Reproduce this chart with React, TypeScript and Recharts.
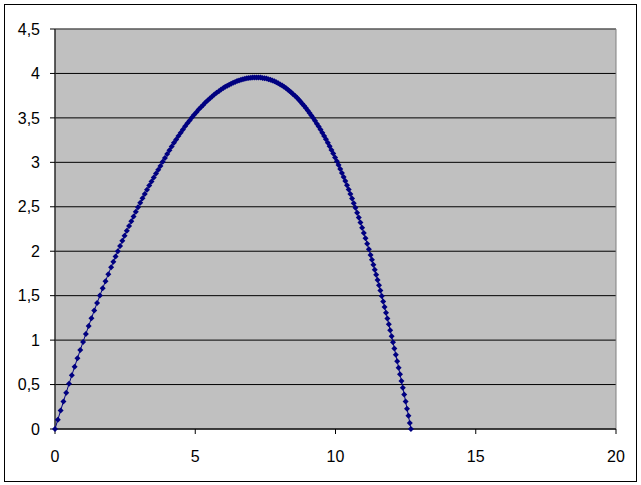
import {
  CartesianGrid,
  ReferenceArea,
  Scatter,
  ScatterChart,
  XAxis,
  YAxis,
} from "recharts";

// points (distance, height)
const xValues = [
  0, 0.1, 0.2, 0.3, 0.4, 0.5, 0.6, 0.7, 0.8, 0.9, 1.0, 1.1, 1.2, 1.3, 1.4, 1.5,
  1.6, 1.7, 1.8, 1.9, 2.0, 2.08, 2.16, 2.24, 2.32, 2.4, 2.48, 2.56, 2.64, 2.72,
  2.8, 2.88, 2.96, 3.04, 3.12, 3.2, 3.28, 3.36, 3.44, 3.52, 3.6, 3.68, 3.76,
  3.84, 3.92, 4.0, 4.08, 4.16, 4.24, 4.32, 4.4, 4.48, 4.56, 4.64, 4.72, 4.8,
  4.88, 4.96, 5.04, 5.12, 5.2, 5.28, 5.36, 5.44, 5.52, 5.6, 5.68, 5.76, 5.84,
  5.92, 6.0, 6.07, 6.14, 6.21, 6.28, 6.35, 6.42, 6.49, 6.56, 6.63, 6.7, 6.77,
  6.84, 6.91, 6.98, 7.05, 7.12, 7.19, 7.26, 7.33, 7.4, 7.47, 7.54, 7.61, 7.68,
  7.75, 7.82, 7.89, 7.96, 8.03, 8.1, 8.165, 8.23, 8.295, 8.36, 8.425, 8.49,
  8.555, 8.62, 8.685, 8.75, 8.815, 8.88, 8.945, 9.01, 9.075, 9.14, 9.205, 9.27,
  9.335, 9.4, 9.465, 9.53, 9.595, 9.66, 9.725, 9.79, 9.855, 9.92, 9.985, 10.05,
  10.11, 10.17, 10.23, 10.29, 10.35, 10.41, 10.47, 10.53, 10.59, 10.65, 10.71,
  10.77, 10.83, 10.89, 10.95, 11.01, 11.07, 11.13, 11.19, 11.25, 11.3, 11.35,
  11.4, 11.45, 11.5, 11.55, 11.6, 11.65, 11.7, 11.75, 11.8, 11.85, 11.9, 11.95,
  12.0, 12.05, 12.1, 12.15, 12.2, 12.25, 12.3, 12.35, 12.4, 12.45, 12.5, 12.55,
  12.6, 12.65, 12.69,
];

const yValues = [
  0, 0.104, 0.207, 0.309, 0.409, 0.508, 0.605, 0.701, 0.795, 0.888, 0.98, 1.07,
  1.159, 1.247, 1.333, 1.418, 1.501, 1.583, 1.663, 1.742, 1.82, 1.881, 1.941,
  2.001, 2.059, 2.117, 2.173, 2.229, 2.284, 2.338, 2.391, 2.443, 2.495, 2.545,
  2.595, 2.643, 2.691, 2.738, 2.784, 2.829, 2.873, 2.916, 2.959, 3.006, 3.05,
  3.094, 3.137, 3.178, 3.219, 3.258, 3.297, 3.334, 3.37, 3.405, 3.439, 3.472,
  3.504, 3.534, 3.564, 3.593, 3.62, 3.646, 3.672, 3.696, 3.719, 3.741, 3.762,
  3.782, 3.801, 3.819, 3.835, 3.849, 3.862, 3.874, 3.885, 3.895, 3.905, 3.914,
  3.921, 3.928, 3.935, 3.94, 3.945, 3.948, 3.951, 3.953, 3.955, 3.955, 3.954,
  3.953, 3.95, 3.946, 3.942, 3.936, 3.929, 3.92, 3.911, 3.901, 3.89, 3.877,
  3.864, 3.85, 3.835, 3.82, 3.803, 3.786, 3.767, 3.748, 3.728, 3.706, 3.684,
  3.66, 3.636, 3.61, 3.584, 3.556, 3.527, 3.498, 3.467, 3.435, 3.402, 3.368,
  3.333, 3.297, 3.259, 3.221, 3.181, 3.14, 3.098, 3.055, 3.011, 2.969, 2.925,
  2.881, 2.836, 2.79, 2.742, 2.694, 2.644, 2.593, 2.541, 2.488, 2.434, 2.379,
  2.322, 2.264, 2.205, 2.145, 2.084, 2.021, 1.957, 1.903, 1.848, 1.792, 1.734,
  1.677, 1.618, 1.558, 1.497, 1.435, 1.373, 1.309, 1.244, 1.179, 1.112, 1.044,
  0.976, 0.906, 0.835, 0.763, 0.69, 0.616, 0.541, 0.465, 0.387, 0.309, 0.229,
  0.149, 0.067, 0,
];

const xTicks = [0, 5, 10, 15, 20];
const yTicks = [0, 0.5, 1, 1.5, 2, 2.5, 3, 3.5, 4, 4.5];

const data = xValues.map((x, i) => ({ x, y: yValues[i] }));

const navy = "#000080";
const font = "'Liberation Sans', Arial, sans-serif";

const Diamond = (props: any) => {
  const { cx, cy } = props;
  if (cx == null || cy == null) return null;
  const r = 3;
  return (
    <path
      d={`M${cx},${cy - r}L${cx + r},${cy}L${cx},${cy + r}L${cx - r},${cy}Z`}
      fill={navy}
    />
  );
};

export default function App() {
  return (
    <div
      style={{
        position: "absolute",
        left: 0,
        top: 0,
        width: 641,
        height: 485,
        background: "#fff",
      }}
    >
      <div
        style={{
          position: "absolute",
          left: 4,
          top: 4,
          width: 631,
          height: 476,
          border: "1px solid #000",
        }}
      />
      <div style={{ position: "absolute", left: 0, top: 0 }}>
        <ScatterChart
          width={641}
          height={485}
          margin={{ top: 29, right: 25, bottom: 26, left: 15 }}
        >
          <CartesianGrid
            vertical={false}
            stroke="#000"
            fill="#C0C0C0"
            fillOpacity={1}
          />
          <ReferenceArea
            x1={0}
            x2={20}
            y1={0}
            y2={4.5}
            fill="none"
            stroke="#808080"
            strokeWidth={1}
          />
          <XAxis
            type="number"
            dataKey="x"
            domain={[0, 20]}
            ticks={xTicks}
            interval={0}
            height={30}
            tickSize={5}
            tickMargin={17}
            stroke="#000"
            tick={{ fill: "#000", fontSize: 16, fontFamily: font }}
          />
          <YAxis
            type="number"
            dataKey="y"
            domain={[0, 4.5]}
            ticks={yTicks}
            interval={0}
            width={40}
            tickSize={5}
            tickMargin={10}
            stroke="#000"
            tick={{ fill: "#000", fontSize: 16, fontFamily: font }}
            tickFormatter={(v: number) => String(v).replace(".", ",")}
          />
          <Scatter
            data={data}
            line={{ stroke: navy, strokeWidth: 1 }}
            lineType="joint"
            shape={<Diamond />}
            isAnimationActive={false}
          />
        </ScatterChart>
      </div>
    </div>
  );
}
